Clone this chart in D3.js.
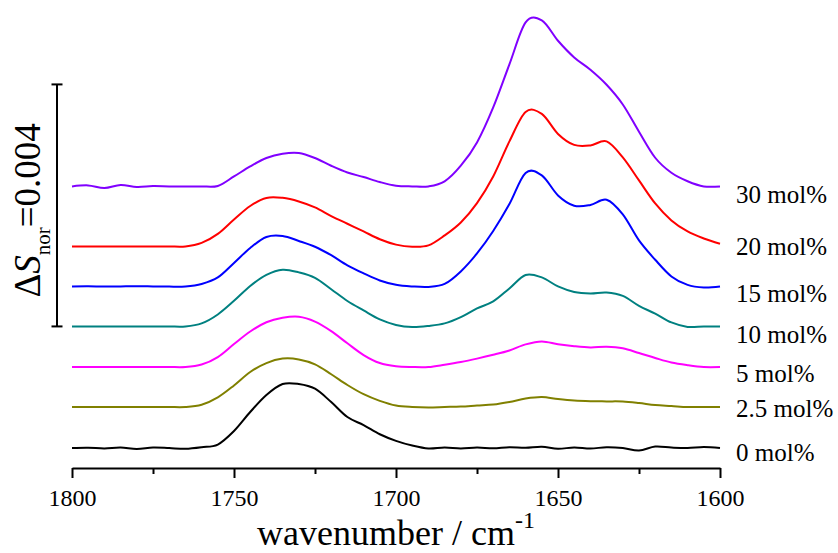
<!DOCTYPE html>
<html>
<head>
<meta charset="utf-8">
<script src="https://cdn.jsdelivr.net/npm/d3@7"></script>
<style>
  body { margin: 0; background: #fff; }
  svg text { font-family: "Liberation Serif", "Times New Roman", Times, serif !important; fill: #000; }
</style>
</head>
<body>
<svg id="chart" width="838" height="553"></svg>
<script>
// DATA
// wavenumber grid, cm-1
const wavenumbers = [1800,1795,1790,1785,1780,1775,1770,1765,1760,1755,
  1750,1745,1740,1735,1730,1725,1720,1715,1710,1705,
  1700,1695,1690,1685,1680,1675,1670,1665,1660,1655,
  1650,1645,1640,1635,1630,1625,1620,1615,1610,1605,1600]

// difference spectra, units of 1e-4 (relative to each trace's own baseline)
const s0 = [0,0.05,-0.08,0.08,-0.17,0.10,0,-0.13,0.13,0.58,
  2.81,5.95,8.76,10.58,10.58,9.80,7.60,5.12,3.80,2.28,
  1.19,0.41,-0.08,0.08,-0.08,0.08,-0.05,0.13,0.03,0.20,
  -0.13,0.10,-0.08,0.13,0,-0.41,0.25,0.08,0,0.17,0]
const s2_5 = [0,0,0,0,0,0,0,0,0.38,1.60,
  3.57,5.79,7.26,8.00,7.87,7.06,5.42,3.64,2.12,1.02,
  0.25,0,-0.08,0,0.08,0.25,0.41,0.83,1.40,1.65,
  1.32,1.07,0.96,0.93,0.91,0.66,0.33,0.17,0,0,0]
const s5 = [0,0,0,0,0,0,0,0,0.41,1.65,
  3.80,5.87,7.40,8.13,8.30,7.50,5.93,3.92,1.98,0.66,
  0.13,0,0,0.38,0.83,1.39,2.02,2.74,3.74,4.23,
  3.77,3.44,3.24,3.34,3.09,2.31,1.49,0.74,0.30,0,0]
const s10 = [0,0,0,0,0,0,0,0,0.50,1.98,
  4.23,6.69,8.51,9.37,8.93,8.03,6.15,4.20,2.64,1.16,
  0.25,-0.10,0.08,0.50,1.54,2.98,4.13,6.28,8.51,8.10,
  6.61,5.70,5.45,5.60,5.04,3.39,2.12,0.66,-0.08,0,0]
const s15 = [0,0.03,-0.03,0,0.03,0,-0.03,0,0.41,1.49,
  3.88,6.36,8.18,8.35,7.52,6.56,5.16,3.50,2.17,0.99,
  0.28,0,-0.08,0.41,2.48,5.45,9.17,13.62,18.76,18.35,
  15.04,13.34,13.47,14.33,11.90,7.60,4.41,1.65,0.25,-0.17,0]
const s20 = [0,0,0,0,0,0,0,0,0.58,2.07,
  4.46,6.69,8.02,8.03,7.44,6.45,5.02,3.75,2.48,1.19,
  0.30,-0.05,0.17,1.82,3.97,7.17,11.57,17.36,22.23,21.90,
  18.60,16.78,16.69,17.36,14.71,10.91,7.11,4.30,2.48,1.32,0.45]
const s30 = [0,0.17,-0.25,0.25,-0.08,0.05,0,0,0,0.08,
  1.65,3.31,4.69,5.40,5.52,4.69,3.42,2.31,1.55,0.73,
  0.12,0,0,0.83,3.42,7.27,13.06,20.17,27.11,27.44,
  24.08,21.32,19.29,16.81,13.55,9.04,4.74,2.26,0.86,0,0]

const seriesNames = ["0 mol%","2.5 mol%","5 mol%","10 mol%","15 mol%","20 mol%","30 mol%"]
const seriesValues = [s0, s2_5, s5, s10, s15, s20, s30]
// vertical stacking offsets, units of 1e-4
const offsets = [0, 6.78, 13.39, 20.10, 26.71, 33.32, 43.24]
const colors = ["#000000","#808000","#ff00ff","#008080","#0000ff","#ff0000","#8000ff"]

const majorTicks = [1800,1750,1700,1650,1600]
const minorTicks = [1775,1725,1675,1625]
// scale bar: 0.004 = 40 x 1e-4, drawn from the 10 mol% baseline
const scaleBar = [20.10, 60.10]

// label placement (px)
const labelX = 736
const labelY = [461, 416.5, 382, 342.5, 301.5, 255, 203]

const serif = '"Liberation Serif", "Times New Roman", Times, serif'

const svg = d3.select("#chart")

const xScale = d3.scaleLinear()
  .domain([1800, 1600])
  .range([72, 720])

const yScale = d3.scaleLinear()
  .domain([-3.3, 72.4])
  .range([468, 10])

// AXES
svg.append("g")
  .attr("class", "xMinor")
  .attr("transform", "translate(0,468)")
  .call(d3.axisBottom(xScale).tickValues(minorTicks).tickSize(6).tickSizeOuter(0).tickFormat(""))
  .call(g => g.select(".domain").remove())
  .selectAll("line").attr("stroke-width", 2)

const xAxis = svg.append("g")
  .attr("class", "xAxis")
  .attr("transform", "translate(0,468)")
  .call(d3.axisBottom(xScale)
    .tickValues(majorTicks)
    .tickSize(10)
    .tickSizeOuter(0)
    .tickPadding(11)
    .tickFormat(d3.format("d")))
  .attr("font-family", serif)
  .attr("font-size", 24)
xAxis.select(".domain").attr("stroke-width", 2)
xAxis.selectAll(".tick line").attr("stroke-width", 2)
xAxis.selectAll(".tick text")
  .style("font-size", "24px")
  .style("font-family", serif)

// axis title
const xTitle = svg.append("text")
  .attr("x", 396)
  .attr("y", 545)
  .attr("text-anchor", "middle")
  .style("font-family", serif)
  .style("font-size", "36px")
xTitle.append("tspan").text("wavenumber / cm")
xTitle.append("tspan").style("font-size", "24px").attr("dy", -17).text("-1")

// SCALE BAR
const bar = svg.append("g").attr("stroke", "#000").attr("stroke-width", 2)
bar.append("line")
  .attr("x1", 57).attr("x2", 57)
  .attr("y1", yScale(scaleBar[0])).attr("y2", yScale(scaleBar[1]))
bar.selectAll(".barTick")
  .data(scaleBar)
  .join("line")
  .attr("class", "barTick")
  .attr("x1", 51.5).attr("x2", 62.5)
  .attr("y1", d => yScale(d)).attr("y2", d => yScale(d))

const yTitle = svg.append("text")
  .attr("transform", `translate(40,${(yScale(scaleBar[0]) + yScale(scaleBar[1])) / 2 + 5}) rotate(-90)`)
  .attr("text-anchor", "middle")
  .style("font-family", serif)
  .style("font-size", "37px")
yTitle.append("tspan").text("\u0394")
yTitle.append("tspan").style("font-style", "italic").text("S")
yTitle.append("tspan").style("font-size", "21px").attr("dy", 10).text("nor")
yTitle.append("tspan").attr("dy", -10).text("=0.004")

// SPECTRA
const line = d3.line()
  .x(d => xScale(d[0]))
  .y(d => yScale(d[1]))
  .curve(d3.curveCardinal.tension(0))

svg.selectAll(".spectrum")
  .data(seriesValues)
  .join("path")
  .attr("class", "spectrum")
  .attr("fill", "none")
  .attr("stroke", (d, i) => colors[i])
  .attr("stroke-width", 2)
  .attr("stroke-linejoin", "round")
  .attr("d", (vals, i) => line(vals.map((v, j) => [wavenumbers[j], v + offsets[i]])))

// LABELS
svg.selectAll(".seriesLabel")
  .data(seriesNames)
  .join("text")
  .attr("class", "seriesLabel")
  .attr("x", labelX)
  .attr("y", (d, i) => labelY[i])
  .style("font-family", serif)
  .style("font-size", "25px")
  .text(d => d)
</script>
</body>
</html>
